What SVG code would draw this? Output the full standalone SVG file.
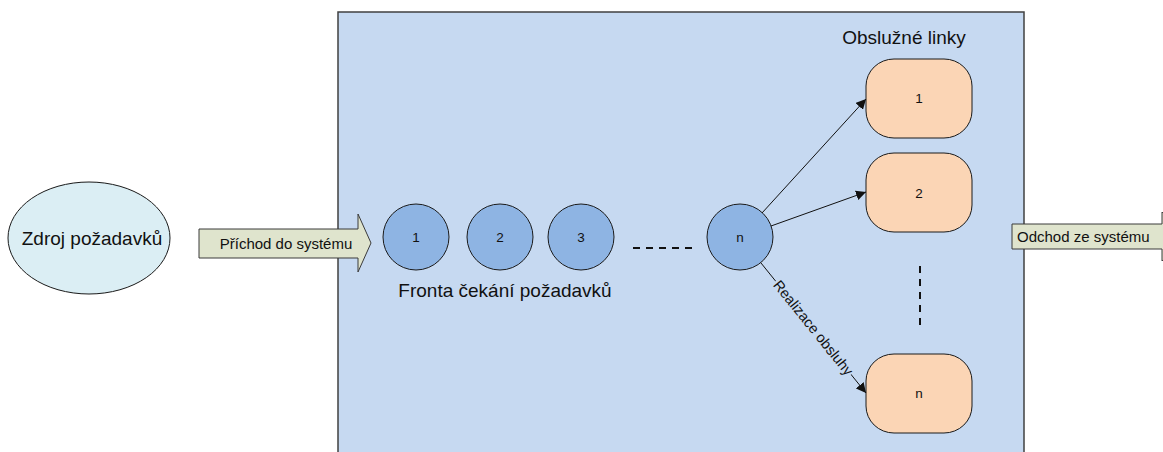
<svg xmlns="http://www.w3.org/2000/svg" width="1163" height="452" viewBox="0 0 1163 452">
  <defs>
    <style>
      text { font-family: "Liberation Sans", Arial, sans-serif; fill: #111; }
      .big { font-size: 19px; }
      .mid { font-size: 15px; }
      .small { font-size: 13.5px; }
      .q { fill: #8eb4e3; stroke: #1a1a1a; stroke-width: 1; }
      .srv { fill: #fbd5b5; stroke: #1a1a1a; stroke-width: 1; }
      .conn { stroke: #111; stroke-width: 1; fill: none; }
      .dash { stroke: #111; stroke-width: 2; stroke-dasharray: 7 6; fill: none; }
      .blockarrow { fill: #dfe4cd; stroke: #3a3a3a; stroke-width: 1; }
    </style>
    <marker id="ah" viewBox="0 0 10 10" refX="10" refY="5" markerWidth="10" markerHeight="10" markerUnits="userSpaceOnUse" orient="auto">
      <path d="M0,0 L10,5 L0,10 z" fill="#111"/>
    </marker>
  </defs>

  <g id="system">
    <rect x="338" y="12" width="686" height="470" fill="#c6d9f1" stroke="#404040" stroke-width="1.5"/>
  </g>

  <g id="zdroj">
    <ellipse cx="89" cy="238" rx="81" ry="56" fill="#dbeef4" stroke="#1a1a1a" stroke-width="1"/>
    <text class="big" x="92" y="245" text-anchor="middle">Zdroj požadavků</text>
  </g>

  <g id="prichod">
    <polygon class="blockarrow" points="199,229 358,229 358,214 371,243 358,272 358,258 199,258"/>
    <text class="mid" x="286" y="249" text-anchor="middle">Příchod do systému</text>
  </g>

  <g id="odchod">
    <polygon class="blockarrow" points="1012,224 1162,224 1162,212 1186,236.5 1162,261 1162,249 1012,249"/>
    <text class="mid" x="1017" y="242">Odchod ze systému</text>
  </g>

  <g id="q1">
    <circle class="q" cx="416" cy="237" r="33"/>
    <text class="small" x="416" y="242" text-anchor="middle">1</text>
  </g>
  <g id="q2">
    <circle class="q" cx="500" cy="237" r="33"/>
    <text class="small" x="500" y="242" text-anchor="middle">2</text>
  </g>
  <g id="q3">
    <circle class="q" cx="581" cy="237" r="33"/>
    <text class="small" x="581" y="242" text-anchor="middle">3</text>
  </g>
  <g id="qn">
    <circle class="q" cx="740" cy="237" r="33"/>
    <text class="small" x="740" y="242" text-anchor="middle">n</text>
  </g>

  <g id="queue-label">
    <text class="big" x="505" y="297" text-anchor="middle">Fronta čekání požadavků</text>
  </g>

  <g id="servers-label">
    <text class="big" x="904" y="44" text-anchor="middle">Obslužné linky</text>
  </g>

  <g id="s1">
    <rect class="srv" x="866" y="59" width="106" height="79" rx="28" ry="27"/>
    <text class="small" x="919" y="103" text-anchor="middle">1</text>
  </g>
  <g id="s2">
    <rect class="srv" x="866" y="153" width="106" height="79" rx="28" ry="27"/>
    <text class="small" x="919" y="198" text-anchor="middle">2</text>
  </g>
  <g id="sn">
    <rect class="srv" x="866" y="354" width="106" height="79" rx="28" ry="27"/>
    <text class="small" x="919" y="398" text-anchor="middle">n</text>
  </g>

  <g id="connectors">
    <path class="dash" d="M633,248 H693"/>
    <path class="dash" d="M920,266 V326"/>
    <path class="conn" d="M762,213 L866,99" marker-end="url(#ah)"/>
    <path class="conn" d="M771,226 L866,192" marker-end="url(#ah)"/>
    <path class="conn" d="M761,263 L866,393" marker-end="url(#ah)"/>
    <g transform="translate(813.3,327.8) rotate(51.1)">
      <rect x="-60" y="-8" width="120" height="16" fill="#c6d9f1"/>
      <text x="0" y="5" font-size="14.5" text-anchor="middle">Realizace obsluhy</text>
    </g>
  </g>
</svg>
